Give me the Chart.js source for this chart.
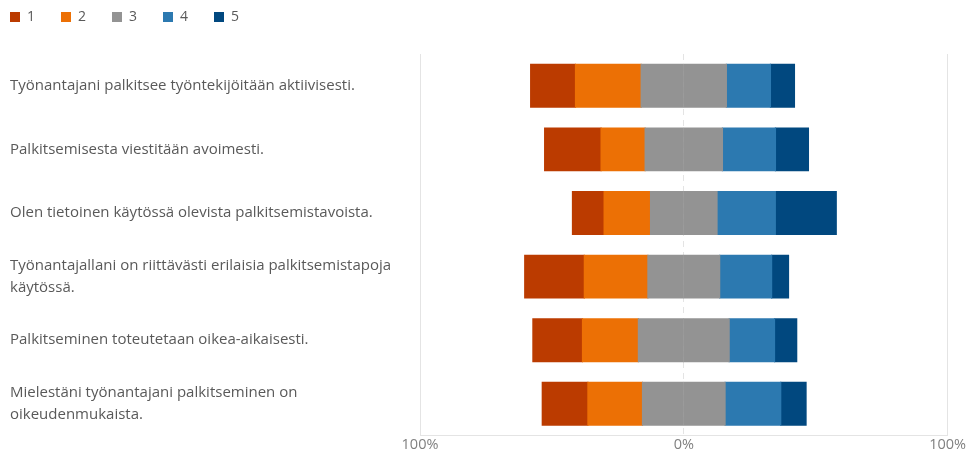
<!DOCTYPE html>
<html>
<head>
<meta charset="utf-8">
<script src="https://cdn.jsdelivr.net/npm/chart.js@4.4.1/dist/chart.umd.min.js"></script>
<style>
  body { margin: 0; background: #fff; }
</style>
</head>
<body>
<canvas id="graphLikert" width="967" height="455"></canvas>
<script>
// statements (multi-line labels are split where the original wraps)
var questions = [
    'Työnantajani palkitsee työntekijöitään aktiivisesti.',
    'Palkitsemisesta viestitään avoimesti.',
    'Olen tietoinen käytössä olevista palkitsemistavoista.',
    ['Työnantajallani on riittävästi erilaisia palkitsemistapoja', 'käytössä.'],
    'Palkitseminen toteutetaan oikea-aikaisesti.',
    ['Mielestäni työnantajani palkitseminen on', 'oikeudenmukaista.']
];

// share of answers (%) per scale point
var answers1 = [17.0, 21.4, 12.0, 22.6, 18.8, 17.3];
var answers2 = [24.9, 16.7, 17.6, 24.1, 21.2, 20.7];
var answers3 = [32.3, 29.3, 25.2, 27.2, 34.4, 31.3];
var answers4 = [16.7, 20.1, 22.1, 19.7, 17.2, 21.1];
var answers5 = [9.1, 12.5, 23.1, 6.4, 8.4, 9.6];

var xTicks = [-100, 0, 100];

var colors = ['#bb3b00', '#ec7005', '#939393', '#2c79b0', '#01487f'];

function neg(arr) {
    return arr.map(function (v) { return -v; });
}
function half(arr, sign) {
    return arr.map(function (v) { return sign * v / 2; });
}

// negative side stacks outward from zero, so the neutral half comes first
var datasets = [
    { label: '3', data: half(answers3, -1), backgroundColor: colors[2] },
    { label: '2', data: neg(answers2), backgroundColor: colors[1] },
    { label: '1', data: neg(answers1), backgroundColor: colors[0] },
    { label: '3', data: half(answers3, 1), backgroundColor: colors[2], hideInLegend: true },
    { label: '4', data: answers4, backgroundColor: colors[3] },
    { label: '5', data: answers5, backgroundColor: colors[4] }
];

// moves the legend into the top-left corner and leaves room under it
var legendPlace = {
    id: 'legendPlace',
    afterInit: function (chart) {
        var fit = chart.legend.fit;
        chart.legend.fit = function () {
            fit.call(this);
            this.height += 4;
        };
    },
    afterLayout: function (chart) {
        var lg = chart.legend;
        lg.left -= 26;
        lg.right -= 26;
        lg.top -= 16;
        lg.bottom -= 16;
    }
};

var gridColor = '#e4e4e4';

new Chart(document.getElementById('graphLikert'), {
    type: 'bar',
    data: {
        labels: questions,
        datasets: datasets
    },
    options: {
        indexAxis: 'y',
        responsive: false,
        animation: false,
        layout: { padding: { left: 10, right: 0, top: 0, bottom: 0 } },
        datasets: {
            bar: { categoryPercentage: 0.8, barPercentage: 0.84, borderWidth: 0, inflateAmount: 0.6 }
        },
        plugins: {
            tooltip: { enabled: false },
            legend: {
                position: 'top',
                align: 'start',
                labels: {
                    boxWidth: 10,
                    boxHeight: 10,
                    padding: 26,
                    color: '#595959',
                    font: { family: 'Open Sans', size: 14 },
                    filter: function (item, data) {
                        return !data.datasets[item.datasetIndex].hideInLegend;
                    },
                    sort: function (a, b) {
                        return Number(a.text) - Number(b.text);
                    }
                }
            }
        },
        scales: {
            x: {
                stacked: true,
                min: xTicks[0],
                max: xTicks[xTicks.length - 1],
                afterBuildTicks: function (scale) {
                    scale.ticks = xTicks.map(function (v) { return { value: v }; });
                },
                ticks: {
                    padding: 1,
                    maxRotation: 0,
                    color: '#808080',
                    font: { family: 'Open Sans', size: 14.5 },
                    callback: function (v) { return Math.abs(v) + '%'; }
                },
                grid: {
                    color: gridColor,
                    drawTicks: false
                },
                border: {
                    display: true,
                    color: gridColor,
                    dash: function (ctx) {
                        return ctx.tick && ctx.tick.value === 0 ? [6, 5] : [];
                    }
                }
            },
            y: {
                stacked: true,
                afterFit: function (scale) {
                    scale.width = 410;
                },
                grid: { display: false },
                border: { display: false },
                ticks: {
                    crossAlign: 'far',
                    color: '#595959',
                    font: { family: 'Open Sans', size: 15, lineHeight: 1.47 }
                }
            }
        }
    },
    plugins: [legendPlace]
});
</script>
</body>
</html>
